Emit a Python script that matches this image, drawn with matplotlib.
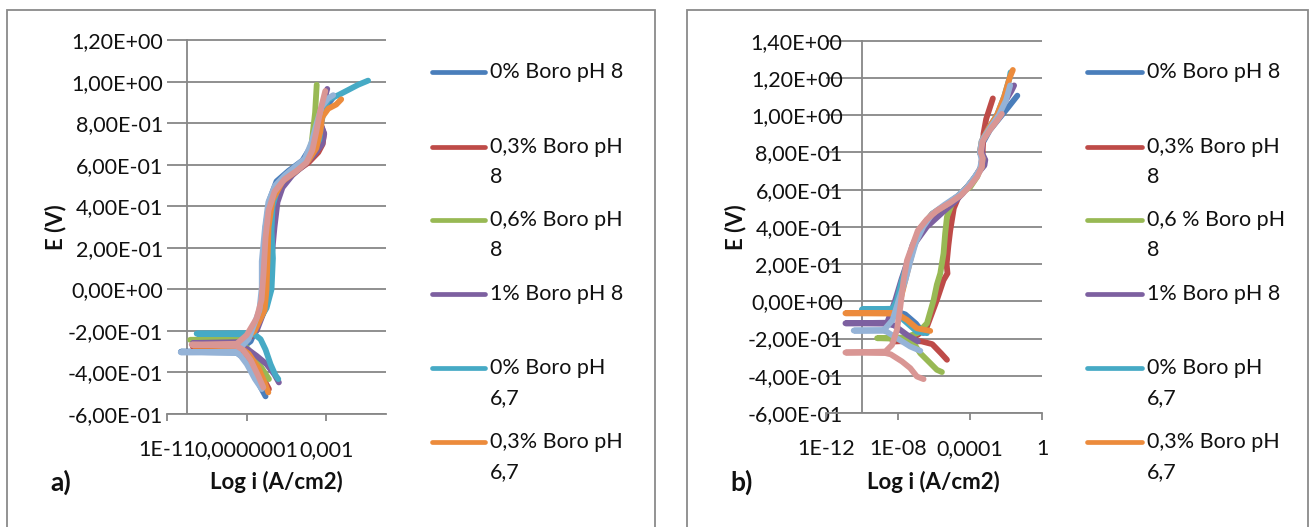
import numpy as np
import matplotlib
matplotlib.use("Agg")
import matplotlib.pyplot as plt
from matplotlib.lines import Line2D
from matplotlib.patches import Rectangle
from matplotlib.ticker import NullLocator

plt.rcParams['font.family'] = ['Lato', 'DejaVu Sans']

# ---------------- data ----------------
series_names = ["0% Boro pH 8", "0,3% Boro pH 8", "0,6% Boro pH 8", "1% Boro pH 8",
                "0% Boro pH 6,7", "0,3% Boro pH 6,7", "0,6% Boro pH 6,7", "1% Boro pH 6,7"]
colors = ["#4A7EBB", "#BE4B48", "#98B954", "#7D60A0", "#46AAC5", "#EC8B3C", "#95B3D7", "#D99694"]

legend_a = ["0% Boro pH 8", "0,3% Boro pH\n8", "0,6% Boro pH\n8", "1% Boro pH 8",
            "0% Boro pH\n6,7", "0,3% Boro pH\n6,7"]
legend_b = ["0% Boro pH 8", "0,3% Boro pH\n8", "0,6 % Boro pH\n8", "1% Boro pH 8",
            "0% Boro pH\n6,7", "0,3% Boro pH\n6,7"]

y_ticks_a = [-0.6, -0.4, -0.2, 0.0, 0.2, 0.4, 0.6, 0.8, 1.0, 1.2]
y_labels_a = ["-6,00E-01", "-4,00E-01", "-2,00E-01", "0,00E+00", "2,00E-01",
              "4,00E-01", "6,00E-01", "8,00E-01", "1,00E+00", "1,20E+00"]
y_ticks_b = [-0.6, -0.4, -0.2, 0.0, 0.2, 0.4, 0.6, 0.8, 1.0, 1.2, 1.4]
y_labels_b = ["-6,00E-01", "-4,00E-01", "-2,00E-01", "0,00E+00", "2,00E-01",
              "4,00E-01", "6,00E-01", "8,00E-01", "1,00E+00", "1,20E+00", "1,40E+00"]
x_ticks_a = [1e-11, 1e-7, 1e-3]
x_labels_a = ["1E-11", "0,0000001", "0,001"]
x_ticks_b = [1e-12, 1e-8, 1e-4, 1]
x_labels_b = ["1E-12", "1E-08", "0,0001", "1"]

# panel a)  (log10 i [A/cm2], E [V])
a_blue_logi = [-6.05, -6.3, -6.6, -7.0, -7.5, -10.3, -7.5, -6.8, -6.35, -6.2, -6.15, -6.05, -5.85, -5.5, -4.9, -4.2, -3.75, -3.45, -3.2, -2.85, -2.6]
a_blue_E = [-0.515, -0.47, -0.40, -0.34, -0.305, -0.300, -0.298, -0.25, -0.15, -0.05, 0.10, 0.30, 0.43, 0.52, 0.57, 0.62, 0.69, 0.78, 0.85, 0.90, 0.93]
a_red_logi = [-5.88, -6.1, -6.5, -6.9, -7.4, -9.7, -7.4, -6.7, -6.2, -6.0, -5.95, -5.85, -5.6, -5.1, -4.5, -3.9, -3.4, -3.18, -3.12, -3.3, -3.2, -3.0]
a_red_E = [-0.48, -0.44, -0.37, -0.31, -0.28, -0.276, -0.272, -0.22, -0.12, 0.0, 0.15, 0.30, 0.43, 0.52, 0.57, 0.61, 0.66, 0.70, 0.75, 0.80, 0.87, 0.93]
a_green_logi = [-5.88, -6.1, -6.5, -7.0, -7.4, -9.84, -7.4, -6.7, -6.2, -6.05, -6.0, -5.85, -5.6, -5.1, -4.4, -4.15, -3.9, -3.73, -3.56, -3.48]
a_green_E = [-0.432, -0.40, -0.34, -0.28, -0.248, -0.243, -0.238, -0.20, -0.10, 0.05, 0.20, 0.35, 0.46, 0.53, 0.58, 0.613, 0.65, 0.709, 0.852, 0.985]
a_purple_logi = [-5.38, -5.6, -6.0, -6.5, -7.0, -7.4, -9.7, -7.4, -6.5, -6.1, -5.85, -5.75, -5.6, -5.45, -5.2, -4.7, -4.1, -3.6, -3.2, -3.1, -3.3, -3.2, -2.95]
a_purple_E = [-0.448, -0.41, -0.36, -0.32, -0.285, -0.262, -0.258, -0.254, -0.20, -0.10, 0.0, 0.15, 0.30, 0.42, 0.49, 0.55, 0.60, 0.65, 0.70, 0.75, 0.80, 0.88, 0.965]
a_teal_logi = [-5.41, -5.57, -5.8, -6.05, -6.3, -6.6, -9.51, -6.9, -6.5, -6.0, -5.75, -5.68, -5.75, -5.7, -5.4, -4.9, -4.3, -3.8, -3.35, -3.25, -3.1, -2.9, -2.4, -1.9, -1.4, -0.9]
a_teal_E = [-0.432, -0.41, -0.36, -0.29, -0.24, -0.217, -0.213, -0.210, -0.17, -0.09, 0.0, 0.15, 0.28, 0.40, 0.50, 0.55, 0.60, 0.65, 0.72, 0.80, 0.87, 0.915, 0.935, 0.96, 0.985, 1.005]
a_orange_logi = [-5.91, -6.05, -6.4, -6.9, -7.4, -9.7, -7.4, -6.6, -6.1, -6.0, -5.95, -5.9, -5.7, -5.2, -4.5, -3.9, -3.5, -3.3, -3.2, -2.9, -2.5, -2.25]
a_orange_E = [-0.496, -0.46, -0.38, -0.31, -0.275, -0.270, -0.266, -0.20, -0.10, 0.0, 0.15, 0.30, 0.43, 0.52, 0.57, 0.62, 0.68, 0.76, 0.83, 0.87, 0.89, 0.915]
a_lblue_logi = [-6.24, -6.58, -6.99, -7.3, -7.5, -10.31, -7.5, -6.9, -6.36, -6.24, -6.24, -6.08, -5.91, -5.57, -5.07, -4.57, -4.07, -3.73, -3.48, -3.23, -2.9, -2.65]
a_lblue_E = [-0.48, -0.432, -0.36, -0.32, -0.305, -0.303, -0.300, -0.24, -0.10, 0.01, 0.135, 0.295, 0.42, 0.50, 0.55, 0.59, 0.63, 0.71, 0.80, 0.88, 0.92, 0.935]
a_pink_logi = [-6.16, -6.4, -6.8, -7.2, -7.5, -9.76, -7.5, -7.0, -6.5, -6.25, -6.15, -6.05, -5.9, -5.6, -5.1, -4.5, -4.0, -3.7, -3.5, -3.3, -3.05]
a_pink_E = [-0.472, -0.42, -0.34, -0.29, -0.272, -0.266, -0.262, -0.22, -0.14, -0.05, 0.08, 0.25, 0.38, 0.47, 0.53, 0.57, 0.61, 0.67, 0.76, 0.86, 0.955]

# panel b)
b_blue_logi = [-6.6, -7.0, -7.6, -8.2, -10.0, -8.2, -8.0, -7.75, -7.5, -7.2, -6.7, -6.0, -5.3, -4.6, -4.1, -3.7, -3.35, -3.3, -3.45, -3.3, -2.9, -2.4, -1.9, -1.37]
b_blue_E = [-0.17, -0.12, -0.07, -0.052, -0.048, -0.044, 0.0, 0.10, 0.20, 0.30, 0.40, 0.47, 0.52, 0.57, 0.62, 0.67, 0.72, 0.77, 0.80, 0.85, 0.92, 0.98, 1.04, 1.105]
b_red_logi = [-5.28, -5.6, -6.1, -6.7, -7.3, -8.3, -7.5, -6.9, -6.39, -5.84, -5.47, -5.25, -5.3, -5.2, -5.1, -4.9, -4.6, -4.2, -3.75, -3.4, -3.3, -3.25, -3.1, -2.73]
b_red_E = [-0.314, -0.28, -0.23, -0.215, -0.214, -0.215, -0.212, -0.18, -0.136, 0.007, 0.114, 0.15, 0.20, 0.30, 0.38, 0.50, 0.57, 0.61, 0.66, 0.72, 0.80, 0.90, 0.98, 1.09]
b_green_logi = [-5.56, -5.84, -6.21, -6.76, -7.2, -7.6, -9.16, -7.6, -6.9, -6.39, -6.02, -5.84, -5.65, -5.47, -5.38, -5.28, -5.0, -4.54, -3.99, -3.6, -3.4]
b_green_E = [-0.38, -0.368, -0.332, -0.279, -0.215, -0.202, -0.198, -0.194, -0.17, -0.118, 0.007, 0.09, 0.15, 0.257, 0.364, 0.454, 0.525, 0.579, 0.614, 0.67, 0.72]
b_purple_logi = [-6.9, -7.5, -8.2, -8.6, -10.92, -8.6, -8.15, -7.8, -7.45, -7.0, -6.4, -5.5, -4.9, -4.4, -4.0, -3.55, -3.2, -3.15, -3.35, -3.3, -2.8, -2.2, -1.7, -1.55]
b_purple_E = [-0.215, -0.18, -0.13, -0.12, -0.118, -0.115, 0.007, 0.12, 0.22, 0.32, 0.40, 0.48, 0.53, 0.58, 0.63, 0.69, 0.73, 0.76, 0.80, 0.87, 0.95, 1.05, 1.13, 1.16]
b_teal_logi = [-6.39, -6.95, -7.69, -8.1, -8.3, -10.0, -8.3, -8.06, -7.78, -7.5, -7.15, -6.7, -6.1, -5.3, -4.6, -4.1, -3.7, -3.35, -3.3, -3.45, -3.35, -2.9, -2.5, -2.1, -1.8, -1.75]
b_teal_E = [-0.171, -0.163, -0.10, -0.05, -0.043, -0.043, -0.040, 0.007, 0.114, 0.20, 0.30, 0.40, 0.47, 0.52, 0.57, 0.62, 0.67, 0.72, 0.77, 0.80, 0.86, 0.94, 1.00, 1.10, 1.20, 1.23]
b_orange_logi = [-6.21, -6.95, -7.5, -8.06, -10.92, -8.06, -7.87, -7.5, -7.13, -6.7, -6.1, -5.3, -4.6, -4.1, -3.7, -3.35, -3.3, -3.45, -3.35, -2.9, -2.5, -2.1, -1.8, -1.62]
b_orange_E = [-0.159, -0.145, -0.10, -0.066, -0.064, -0.062, 0.007, 0.15, 0.29, 0.40, 0.47, 0.52, 0.57, 0.62, 0.67, 0.72, 0.77, 0.80, 0.86, 0.94, 1.00, 1.10, 1.20, 1.243]
b_lblue_logi = [-6.76, -7.32, -8.06, -8.6, -8.79, -10.46, -8.79, -8.3, -7.96, -7.59, -7.3, -7.0, -6.6, -6.1, -5.4, -4.7, -4.2, -3.8, -3.45, -3.35, -3.45, -3.35, -2.9, -2.4, -2.0, -1.77]
b_lblue_E = [-0.266, -0.243, -0.198, -0.165, -0.158, -0.157, -0.155, -0.10, 0.007, 0.114, 0.22, 0.32, 0.40, 0.47, 0.52, 0.565, 0.61, 0.66, 0.71, 0.76, 0.80, 0.86, 0.93, 1.00, 1.08, 1.16]
b_pink_logi = [-6.58, -6.95, -7.32, -7.78, -8.4, -8.7, -10.92, -8.7, -8.33, -8.06, -7.87, -7.69, -7.5, -7.2, -6.9, -6.4, -5.8, -5.1, -4.5, -4.0, -3.6, -3.35, -3.3, -3.4, -3.3, -2.9, -2.5, -2.23]
b_pink_E = [-0.418, -0.404, -0.359, -0.323, -0.285, -0.278, -0.275, -0.27, -0.234, -0.154, -0.029, 0.114, 0.22, 0.30, 0.38, 0.44, 0.49, 0.53, 0.57, 0.62, 0.67, 0.72, 0.77, 0.80, 0.86, 0.92, 0.97, 1.007]

panel_a = [(a_blue_logi, a_blue_E), (a_red_logi, a_red_E), (a_green_logi, a_green_E),
           (a_purple_logi, a_purple_E), (a_teal_logi, a_teal_E), (a_orange_logi, a_orange_E),
           (a_lblue_logi, a_lblue_E), (a_pink_logi, a_pink_E)]
panel_b = [(b_blue_logi, b_blue_E), (b_red_logi, b_red_E), (b_green_logi, b_green_E),
           (b_purple_logi, b_purple_E), (b_teal_logi, b_teal_E), (b_orange_logi, b_orange_E),
           (b_lblue_logi, b_lblue_E), (b_pink_logi, b_pink_E)]

# ---------------- figure ----------------
W, H = 1314, 527
fig = plt.figure(figsize=(W / 100, H / 100), dpi=100)
GRID = "#878787"
FS = 15.5
TXT = "#111111"


def fx(x):
    return x / W


def fy(y):
    return 1 - y / H


# panel borders
for x0, x1 in [(7, 655), (687, 1308)]:
    fig.add_artist(Rectangle((fx(x0), -0.1), (x1 - x0) / W, fy(10) + 0.1,
                             transform=fig.transFigure, fill=False, ec="#8a8a8a", lw=1.3))


def setup(ax, xlim, yticks, ylabels, xticks, xlabels, ypad):
    ax.set_xscale("log")
    ax.set_xlim(*xlim)
    ax.set_ylim(yticks[0], yticks[-1] + 0.004)
    ax.set_yticks(yticks)
    ax.set_yticklabels(ylabels)
    ax.set_xticks(xticks)
    ax.set_xticklabels(xlabels)
    ax.xaxis.set_minor_locator(NullLocator())
    ax.yaxis.grid(True, color=GRID, lw=1.3)
    ax.xaxis.grid(False)
    ax.set_axisbelow(True)
    for s in ["top", "right", "left"]:
        ax.spines[s].set_visible(False)
    ax.spines["bottom"].set_color(GRID)
    ax.spines["bottom"].set_linewidth(1.3)
    ax.axvline(1e-10, color=GRID, lw=1.3, zorder=0.5)
    ax.tick_params(axis="y", length=0, pad=ypad, labelsize=FS, labelcolor=TXT)
    ax.tick_params(axis="x", length=5, width=1.3, color=GRID, pad=14, labelsize=FS,
                   labelcolor=TXT, direction="out")
    ax.patch.set_alpha(0)


def draw(ax, data):
    for (li, e), c in zip(data, colors):
        ax.plot(10 ** np.array(li), e, color=c, lw=4.2, solid_capstyle="round",
                solid_joinstyle="round", zorder=2)


axA = fig.add_axes([fx(167), fy(414), 219 / W, (414 - 39.3) / H])
setup(axA, (1e-11, 1), y_ticks_a, y_labels_a, x_ticks_a, x_labels_a, 3)
draw(axA, panel_a)

axB = fig.add_axes([fx(826), fy(413), 216 / W, (413 - 40) / H])
setup(axB, (1e-12, 1), y_ticks_b, y_labels_b, x_ticks_b, x_labels_b, -12)
draw(axB, panel_b)

# axis titles and panel letters
for xt, xl, xe, lab in [(276, 61, 56, "a)"), (933, 742, 736, "b)")]:
    fig.text(fx(xt), fy(482), "Log i (A/cm2)", ha="center", va="center",
             fontsize=16, fontweight="bold", color=TXT)
    fig.text(fx(xl), fy(482), lab, ha="center", va="center", fontsize=19,
             fontweight="bold", color=TXT)
    fig.text(fx(xe), fy(227), "E (V)", ha="center", va="center", rotation=90,
             fontsize=16, fontweight="bold", color=TXT)

# legends
entry_y = [72, 147, 220, 294, 368, 442]
for labels, lx0, lx1, tx in [(legend_a, 432, 485, 490), (legend_b, 1087, 1142, 1147)]:
    for lab, yy, c in zip(labels, entry_y, colors):
        fig.add_artist(Line2D([fx(lx0), fx(lx1)], [fy(yy), fy(yy)], color=c, lw=3.4,
                              solid_capstyle="round", transform=fig.transFigure))
        for k, part in enumerate(lab.split("\n")):
            fig.text(fx(tx), fy(yy + 30 * k), part, ha="left", va="center",
                     fontsize=FS, color=TXT)

fig.savefig("out.png", dpi=100)
